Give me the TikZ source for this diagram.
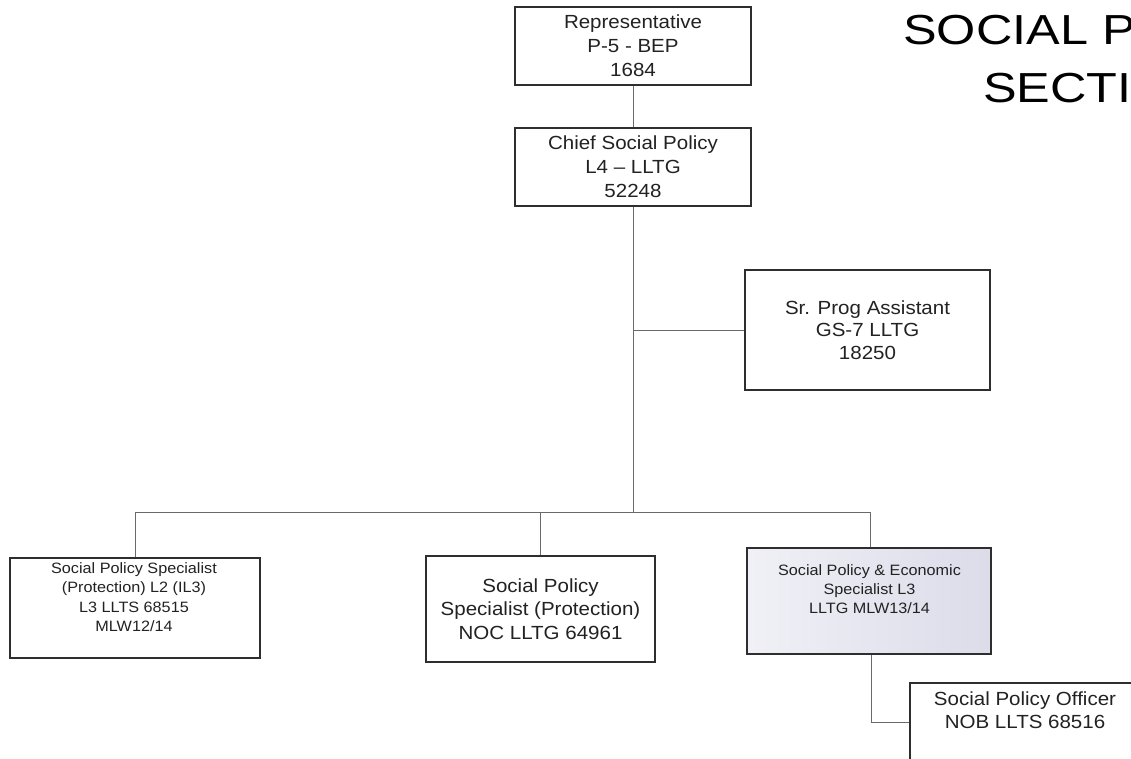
\documentclass[tikz,border=0pt]{standalone}
\usepackage{fontspec}
\setmainfont{Liberation Sans}[FakeStretch=1.08]
\newfontfamily\titlefont{Liberation Sans}[FakeStretch=1.2]
\definecolor{boxline}{HTML}{2E2E2E}
\definecolor{connline}{HTML}{6A6A6A}
\definecolor{shadeL}{HTML}{F0F0F6}
\definecolor{shadeR}{HTML}{DCDCEA}
\definecolor{txt}{HTML}{222222}
\tikzset{
  posbox/.style={draw=boxline, line width=1.3pt, rectangle, align=center, text=txt, inner sep=0pt},
  bigtxt/.style={font=\fontsize{19}{24}\selectfont},
  smalltxt/.style={font=\fontsize{15}{19.5}\selectfont},
  conn/.style={draw=connline, line width=1pt},
  plaintxt/.style={align=center, text=txt, inner sep=0pt}
}
\begin{document}
\begin{tikzpicture}[x=1pt,y=-1pt]
\useasboundingbox (0,0) rectangle (1131,759);
\fill[white] (0,0) rectangle (1131,759);
\begin{scope}
\clip (0,0) rectangle (1131,759);
% title
\node[plaintxt, anchor=north west, text=black, font=\titlefont\fontsize{42}{58}\selectfont] (title) at (903,15) {SOCIAL POLICY\\SECTION};

% boxes
\node[posbox, bigtxt, minimum width=236pt, minimum height=78pt] (rep) at (633,46) {Representative\\P-5 - BEP\\1684};
\node[posbox, bigtxt, minimum width=236pt, minimum height=78pt] (chief) at (633,167) {Chief Social Policy\\L4 -- LLTG\\52248};
\node[posbox, font=\fontsize{19}{22.5}\selectfont, minimum width=245pt, minimum height=120pt] (sr) at (867.5,330) {Sr. Prog Assistant\\GS-7 LLTG\\18250};
\node[posbox, minimum width=250pt, minimum height=100pt] (left) at (135,608) {};
\node[plaintxt, smalltxt] (lefttext) at (134,597) {Social Policy Specialist\\(Protection) L2 (IL3)\\L3 LLTS 68515\\MLW12/14};
\node[posbox, font=\fontsize{19}{23.5}\selectfont, minimum width=229pt, minimum height=106pt] (mid) at (540.5,609) {Social Policy\\Specialist (Protection)\\NOC LLTG 64961};
\node[posbox, left color=shadeL, right color=shadeR, minimum width=244pt, minimum height=106pt] (shaded) at (869,601) {};
\node[plaintxt, font=\fontsize{15}{19}\selectfont] (shadedtext) at (869.5,589) {Social Policy \& Economic\\Specialist L3\\LLTG MLW13/14};
\node[posbox, minimum width=240pt, minimum height=97pt] (officer) at (1030,731.5) {};
\node[plaintxt, font=\fontsize{19}{23.5}\selectfont] (officertext) at (1025,710) {Social Policy Officer\\NOB LLTS 68516};

% connectors
\coordinate (jc) at (633,512);
\coordinate (busL) at (135,512);
\coordinate (busR) at (870,512);
\draw[conn] (rep.south) -- (chief.south |- chief.north);
\draw[conn] (chief.south) -- (jc);
\draw[conn] (chief.south |- sr.west) -- (sr.west);
\draw[conn] (busL) -- (busR);
\draw[conn] (busL) -- (left.north);
\draw[conn] (mid.north |- jc) -- (mid.north);
\draw[conn] (busR) -- (busR |- shaded.north);
\draw[conn] ([xshift=2pt]shaded.south) |- ([yshift=9.5pt]officer.west);
\end{scope}
\end{tikzpicture}
\end{document}
